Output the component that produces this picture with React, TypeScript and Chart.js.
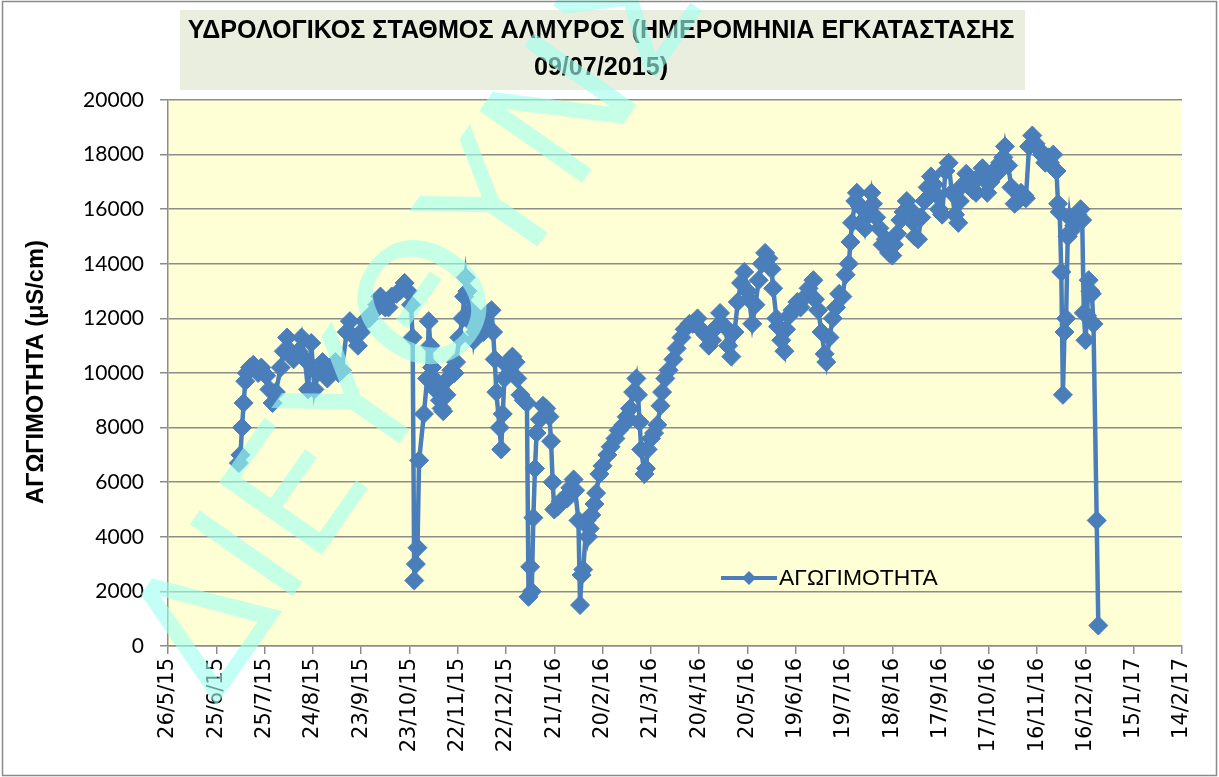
import React, { useEffect, useRef } from "react";
import { Chart, registerables } from "chart.js";

Chart.register(...registerables);

// ---------- DATA ----------
const START_UTC = Date.UTC(2015, 4, 26); // 26/5/2015 = day 0 of the axis

const dayOffsets = [
  44, 45, 46, 47, 48, 49, 51, 53, 56, 58,
  61, 63, 65, 67, 70, 72, 74, 76, 78, 81,
  83, 85, 87, 89, 91, 93, 96, 99, 101, 104,
  106, 108, 111, 113, 116, 118, 120, 122, 125, 127,
  130, 132, 135, 137, 139, 142, 144, 147, 149, 151,
  152, 153, 154, 155, 156, 159, 161, 162, 163, 164,
  165, 166, 168, 169, 170, 171, 173, 174, 176, 178,
  179, 181, 183, 184, 185, 186, 188, 189, 190, 191,
  193, 194, 196, 197, 199, 201, 202, 203, 204, 206,
  207, 208, 209, 210, 212, 214, 216, 217, 219, 221,
  223, 224, 225, 226, 227, 228, 229, 231, 233, 235,
  237, 238, 239, 240, 242, 244, 246, 248, 250, 252,
  253, 255, 256, 257, 258, 260, 261, 262, 263, 265,
  266, 268, 270, 273, 275, 278, 280, 283, 285, 287,
  289, 291, 292, 293, 294, 296, 297, 298, 300, 302,
  304, 306, 307, 309, 311, 314, 316, 319, 321, 324,
  326, 329, 331, 334, 336, 338, 341, 343, 346, 348,
  350, 352, 354, 356, 358, 360, 361, 363, 365, 367,
  369, 371, 373, 375, 376, 378, 379, 381, 383, 384,
  386, 388, 391, 393, 396, 398, 401, 402, 404, 406,
  408, 409, 411, 413, 415, 417, 419, 421, 423, 424,
  425, 427, 428, 430, 432, 433, 435, 437, 438, 440,
  442, 444, 446, 448, 450, 451, 453, 455, 457, 459,
  461, 463, 464, 466, 468, 470, 472, 474, 476, 478,
  479, 481, 483, 485, 487, 489, 491, 492, 494, 496,
  498, 500, 502, 504, 506, 507, 509, 511, 513, 515,
  517, 519, 520, 522, 524, 526, 528, 530, 532, 533,
  535, 537, 539, 541, 543, 545, 547, 548, 550, 552,
  553, 554, 555, 556, 557, 558, 559, 560, 561, 563,
  565, 567, 568, 569, 570, 571, 572, 573, 574, 575,
  577, 578,
];

const conductivity = [
  6700, 7000, 8000, 8900, 9700, 10000, 10200, 10300, 10000, 10200,
  9900, 9400, 8900, 9300, 10200, 10800, 11300, 10800, 10500, 10800,
  11300, 10500, 9400, 11100, 9400, 10000, 10400, 9800, 10200, 10400,
  10000, 10100, 11500, 11900, 11300, 11000, 11500, 11900, 12000, 12200,
  12500, 12800, 12400, 12400, 12800, 12900, 13000, 13300, 13000, 12500,
  11300, 2400, 3000, 3600, 6800, 8500, 9800, 11900, 11000, 10200,
  9800, 9400, 9600, 9000, 8700, 8600, 9200, 9800, 10100, 10000,
  10400, 11300, 12000, 12800, 13500, 13000, 12300, 11800, 11200, 11500,
  12000, 11700, 11500, 11800, 12200, 12300, 11500, 10500, 9300, 8000,
  7200, 8500, 9800, 10300, 10000, 10600, 10400, 9800, 9200, 9000,
  8900, 1800, 2900, 2000, 4700, 6500, 7800, 8300, 8800, 8700,
  8400, 7500, 6000, 5000, 5100, 5300, 5400, 5400, 5800, 6100,
  5700, 4600, 1500, 2600, 2800, 4600, 4000, 4300, 4800, 5200,
  5600, 6300, 6600, 7000, 7300, 7600, 7900, 8100, 8400, 8700,
  9300, 9800, 9200, 8200, 7200, 6300, 6500, 7200, 7600, 7800,
  8100, 8800, 9300, 9800, 10100, 10500, 10900, 11300, 11600, 11800,
  11800, 12000, 11600, 11400, 11000, 11200, 11700, 12200, 11700, 11000,
  10600, 11500, 12600, 13300, 13700, 13000, 12700, 11800, 12500, 13400,
  14000, 14400, 14200, 13800, 13100, 12000, 11700, 11200, 10800, 11600,
  12100, 12300, 12600, 12400, 12800, 13100, 13400, 12700, 12300, 11500,
  10700, 10400, 11300, 12000, 12400, 12900, 12800, 13600, 14000, 14800,
  15500, 16300, 16600, 16100, 15600, 15300, 16000, 16600, 16200, 15700,
  15300, 14700, 14900, 14400, 14300, 14700, 15100, 15600, 15900, 16300,
  16000, 15500, 15000, 14900, 15700, 16300, 16800, 17200, 16900, 16500,
  16000, 15800, 17400, 17700, 16600, 15800, 15500, 16300, 16900, 17300,
  17000, 16700, 16600, 17200, 17500, 17100, 16600, 17000, 17400, 17300,
  17700, 17900, 18300, 17600, 16800, 16200, 16300, 16600, 16500, 16400,
  18300, 18700, 18400, 18200, 18000, 17700, 17900, 17700, 18000, 17400,
  16200, 15900, 13700, 9200, 11500, 12000, 15000, 15700, 15200, 15400,
  15800, 16000, 15600, 12200, 11200, 12100, 13400, 13000, 12900, 11800,
  4600, 750,
];

const seriesLabel = "ΑΓΩΓΙΜΟΤΗΤΑ";
const yAxisTitle = "ΑΓΩΓΙΜΟΤΗΤΑ (μS/cm)";
const titleLines = [
  "ΥΔΡΟΛΟΓΙΚΟΣ ΣΤΑΘΜΟΣ ΑΛΜΥΡΟΣ (ΗΜΕΡΟΜΗΝΙΑ ΕΓΚΑΤΑΣΤΑΣΗΣ",
  "09/07/2015)",
];
const watermarkText = "ΔΙΕΥΘΥΝΣΗ ΥΔΑΤΩΝ";
const xRange = [0, 630];
const xStep = 30;
const yRange = [0, 20000];
const yStep = 2000;

// ---------- HELPERS ----------
function fmtDay(v: number): string {
  const d = new Date(START_UTC + Math.round(v) * 86400000);
  const yy = String(d.getUTCFullYear() % 100).padStart(2, "0");
  return `${d.getUTCDate()}/${d.getUTCMonth() + 1}/${yy}`;
}

function fitSize(ctx: CanvasRenderingContext2D, text: string, weight: string, family: string, target: number, base: number) {
  ctx.font = `${weight} ${base}px ${family}`;
  const w = ctx.measureText(text).width;
  return (base * target) / w;
}

const BLUE = "#4a7ebb";
const GRID = "#8c8c8c";

const decorPlugin = {
  id: "decor",
  beforeDraw(chart: any) {
    const { ctx, chartArea } = chart;
    ctx.save();
    ctx.fillStyle = "#ffffff";
    ctx.fillRect(0, 0, chart.width, chart.height);
    ctx.fillStyle = "#eaeede";
    ctx.fillRect(180, 10, 845, 80);
    ctx.fillStyle = "#ffffd5";
    ctx.fillRect(chartArea.left, chartArea.top, chartArea.right - chartArea.left, chartArea.bottom - chartArea.top);
    ctx.restore();
  },
  afterDraw(chart: any) {
    const { ctx } = chart;
    ctx.save();
    // Title
    const tSize = fitSize(ctx, titleLines[0], "bold", "'Liberation Sans', Arial, sans-serif", 827, 25);
    ctx.font = `bold ${tSize}px 'Liberation Sans', Arial, sans-serif`;
    ctx.fillStyle = "#000";
    ctx.textAlign = "center";
    ctx.textBaseline = "middle";
    ctx.fillText(titleLines[0], 601, 31);
    ctx.fillText(titleLines[1], 601, 68);

    // Y axis title
    const ySize = fitSize(ctx, yAxisTitle, "bold", "'Liberation Sans', Arial, sans-serif", 264, 22);
    ctx.save();
    ctx.translate(36, 372);
    ctx.rotate(-Math.PI / 2);
    ctx.font = `bold ${ySize}px 'Liberation Sans', Arial, sans-serif`;
    ctx.fillText(yAxisTitle, 0, 0);
    ctx.restore();

    // Legend
    ctx.strokeStyle = BLUE;
    ctx.lineWidth = 4;
    ctx.beginPath();
    ctx.moveTo(721, 578);
    ctx.lineTo(777, 578);
    ctx.stroke();
    ctx.fillStyle = BLUE;
    ctx.beginPath();
    ctx.moveTo(749, 571);
    ctx.lineTo(756, 578);
    ctx.lineTo(749, 585);
    ctx.lineTo(742, 578);
    ctx.closePath();
    ctx.fill();
    const lSize = fitSize(ctx, seriesLabel, "normal", "'Liberation Sans', Arial, sans-serif", 159, 22);
    ctx.font = `${lSize}px 'Liberation Sans', Arial, sans-serif`;
    ctx.fillStyle = "#000";
    ctx.textAlign = "left";
    ctx.textBaseline = "middle";
    ctx.fillText(seriesLabel, 779, 579);

    // Watermark
    const wm = 172;
    ctx.font = `${wm}px 'DejaVu Sans', sans-serif`;
    const pre = ctx.measureText(watermarkText.slice(0, 4)).width;
    const th = ctx.measureText(watermarkText.charAt(4)).width;
    ctx.save();
    ctx.translate(422, 302);
    ctx.rotate((-55 * Math.PI) / 180);
    ctx.fillStyle = "rgba(160,255,240,0.62)";
    ctx.textAlign = "left";
    ctx.textBaseline = "alphabetic";
    ctx.fillText(watermarkText, -(pre + th / 2), 0.365 * wm);
    ctx.restore();

    // outer frame
    ctx.strokeStyle = "#8a8a8a";
    ctx.lineWidth = 1.5;
    ctx.strokeRect(2.5, 1.5, 1214, 774);
    ctx.restore();
  },
};

export default function App() {
  const ref = useRef<HTMLCanvasElement>(null);

  useEffect(() => {
    const canvas = ref.current;
    if (!canvas) return;
    const points = dayOffsets.map((d, i) => ({ x: d, y: conductivity[i] }));
    const chart = new Chart(canvas, {
      type: "line",
      data: {
        datasets: [
          {
            label: seriesLabel,
            data: points,
            borderColor: BLUE,
            backgroundColor: BLUE,
            borderWidth: 4.5,
            pointStyle: "rectRot",
            pointRadius: 9.5,
            pointBackgroundColor: BLUE,
            pointBorderColor: BLUE,
            pointBorderWidth: 1,
            tension: 0,
            fill: false,
          },
        ],
      },
      options: {
        responsive: false,
        animation: false,
        devicePixelRatio: 1,
        layout: { padding: { top: 100, right: 37, left: 0, bottom: 0 } },
        plugins: {
          legend: { display: false },
          title: { display: false },
          tooltip: { enabled: false },
        },
        scales: {
          x: {
            type: "linear",
            min: xRange[0],
            max: xRange[1],
            afterFit: (s: any) => {
              s.height = 131;
            },
            ticks: {
              stepSize: xStep,
              autoSkip: false,
              minRotation: 90,
              maxRotation: 90,
              color: "#000",
              padding: 4,
              font: { family: "'DejaVu Sans', sans-serif", size: 21 },
              callback: (v: any) => fmtDay(Number(v)),
            },
            grid: {
              drawOnChartArea: false,
              drawTicks: true,
              tickLength: 8,
              color: GRID,
              lineWidth: 1.5,
            },
            border: { display: true, color: GRID, width: 1.5 },
          },
          y: {
            min: yRange[0],
            max: yRange[1],
            afterFit: (s: any) => {
              s.width = 168;
            },
            ticks: {
              stepSize: yStep,
              color: "#000",
              padding: 16,
              font: { family: "Lato, 'Liberation Sans', sans-serif", size: 21 },
              callback: (v: any) => String(v),
            },
            grid: {
              color: GRID,
              lineWidth: 1.5,
              drawTicks: true,
              tickLength: 8,
            },
            border: { display: true, color: GRID, width: 1.5 },
          },
        },
      },
      plugins: [decorPlugin],
    } as any);
    return () => chart.destroy();
  }, []);

  return (
    <div style={{ position: "fixed", left: 0, top: 0, width: 1219, height: 777, background: "#fff" }}>
      <canvas ref={ref} width={1219} height={777} style={{ display: "block", width: 1219, height: 777 }} />
    </div>
  );
}
